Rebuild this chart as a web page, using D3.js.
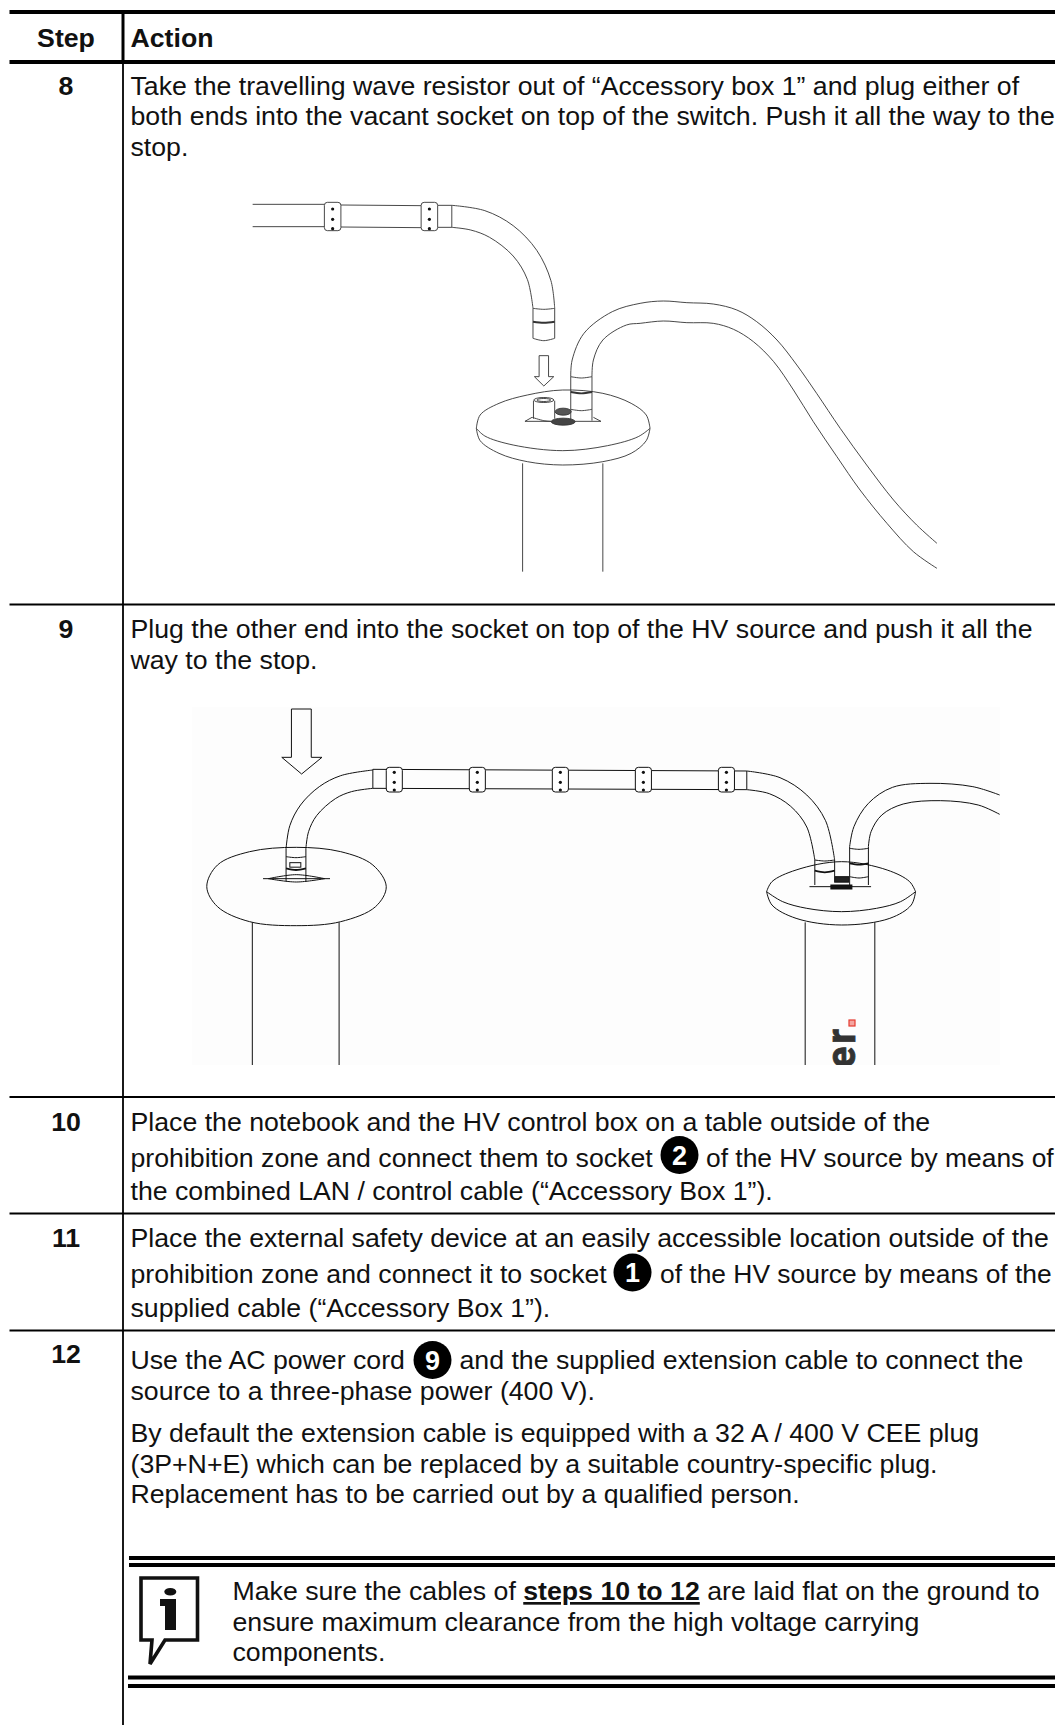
<!DOCTYPE html>
<html>
<head>
<meta charset="utf-8">
<script src="https://cdn.jsdelivr.net/npm/d3@7"></script>
<style>
html, body { margin: 0; padding: 0; background: #fff; overflow: hidden; }
text { font-family: "Liberation Sans", Arial, sans-serif; fill: #111; }
</style>
</head>
<body>
<div id="chart"></div>
<script>
// table content
var headerStep = "Step";
var headerAction = "Action";
var stepLabels = ["8", "9", "10", "11", "12"];
var row8Lines = ["Take the travelling wave resistor out of \u201CAccessory box 1\u201D and plug either of",
	"both ends into the vacant socket on top of the switch. Push it all the way to the",
	"stop."];
var row9Lines = ["Plug the other end into the socket on top of the HV source and push it all the",
	"way to the stop."];
var row10Lines = ["Place the notebook and the HV control box on a table outside of the",
	"prohibition zone and connect them to socket",
	"the combined LAN / control cable (\u201CAccessory Box 1\u201D)."];
var row10After = "of the HV source by means of";
var row11Lines = ["Place the external safety device at an easily accessible location outside of the",
	"prohibition zone and connect it to socket",
	"supplied cable (\u201CAccessory Box 1\u201D)."];
var row11After = "of the HV source by means of the";
var row12Lines = ["Use the AC power cord",
	"source to a three-phase power (400 V).",
	"By default the extension cable is equipped with a 32 A / 400 V CEE plug",
	"(3P+N+E) which can be replaced by a suitable country-specific plug.",
	"Replacement has to be carried out by a qualified person."];
var row12After = "and the supplied extension cable to connect the";
var noteBefore = "Make sure the cables of ";
var noteBold = "steps 10 to 12";
var noteAfter = " are laid flat on the ground to";
var noteLines = ["ensure maximum clearance from the high voltage carrying", "components."];
var badgeLabels = ["2", "1", "9"];

// drawing 1, traced in crop units
var d1CableTop = [[48,73],[200,73]];
var d1CableBottom = [[48,140],[200,140]];
var d1MidTop = [[235,75],[405,77]];
var d1MidBottom = [[235,141],[405,143]];
var d1StubTop = [[440,76],[470,76]];
var d1StubBottom = [[440,142],[470,142]];
var d1BendOuter = [[470,76],[540,92],[600,137],[650,211],[680,302],[688,385]];
var d1BendInner = [[470,142],[510,150],[550,172],[600,228],[630,298],[642,385]];
var d1Arrow = [[655,527],[675,527],[675,590],[686,590],[665,618],[645,590],[655,590],[655,527]];
var d1DomeTop = [[522,745],[530,705],[570,670],[630,645],[705,630],[790,640],[850,670],[882,705],[890,745]];
var d1Rim = [[522,745],[540,768],[600,795],[705,812],[800,797],[865,770],[890,745]];
var d1DomeBottom = [[522,745],[530,782],[570,820],[630,845],[705,855],[790,845],[850,820],[882,782],[890,745]];
var d1CableOuter = [[722,590],[725,540],[750,460],[810,395],[869,370],[918,363],[968,368],[1024,372],[1074,390],[1116,425],[1159,480],[1201,555],[1243,640],[1293,745],[1349,855],[1406,960],[1455,1035],[1498,1090]];
var d1CableInner = [[767,590],[770,540],[790,480],[840,435],[869,430],[918,423],[968,428],[1024,430],[1067,448],[1109,485],[1152,545],[1194,630],[1236,725],[1286,830],[1335,930],[1392,1030],[1448,1115],[1498,1165]];
var d1ClampX = [200, 405];
var d1ClampDots = [87, 118, 146];
var d1ColumnX = [620, 790];

// drawing 2, traced in crop units
var d2Arrow = [[208,57],[245,57],[245,202],[265,202],[227,252],[190,202],[208,202],[208,57]];
var d2LeftDome = [[50,590],[70,525],[130,485],[217,472],[300,485],[360,525],[385,590],[365,650],[300,695],[217,707],[130,695],[70,650]];
var d2LeftOuter = [[198,475],[205,407],[225,345],[260,290],[300,257],[360,240]];
var d2LeftInner = [[235,475],[240,425],[255,377],[290,326],[320,305],[360,295]];
var d2Top = [[360,238],[1058,243]];
var d2Bottom = [[360,295],[1058,299]];
var d2RightOuter = [[1058,243],[1120,263],[1170,315],[1205,392],[1222,510]];
var d2RightInner = [[1058,299],[1100,311],[1140,349],[1170,411],[1185,510]];
var d2SideOuter = [[1530,315],[1480,290],[1400,280],[1330,292],[1285,340],[1258,410],[1250,470]];
var d2SideInner = [[1530,373],[1490,345],[1420,332],[1350,342],[1310,375],[1290,425],[1285,470]];
var d2DomeTop = [[1095,605],[1105,575],[1150,540],[1235,515],[1320,540],[1362,575],[1373,605]];
var d2Rim = [[1095,605],[1125,635],[1170,655],[1235,665],[1300,655],[1345,635],[1373,605]];
var d2DomeBottom = [[1095,605],[1105,645],[1150,685],[1235,705],[1325,685],[1365,645],[1373,605]];
var d2ClampX = [385, 540, 695, 850, 1005];
var d2ClampDots = [247, 277, 300];
var d2ColumnX = [135, 297, 1167, 1297];

var pageWidth = 1055, pageHeight = 1725;
var textX = 130.5, stepX = 66;
var fontSize = 26.7;

var svg = d3.select("#chart").append("svg")
	.attr("width", pageWidth)
	.attr("height", pageHeight);

// rules of the table
var rules = [
	{ x1: 9.5, x2: pageWidth, y: 12, w: 4 },
	{ x1: 9.5, x2: pageWidth, y: 62, w: 4 },
	{ x1: 9.5, x2: pageWidth, y: 604.5, w: 2.2 },
	{ x1: 9.5, x2: pageWidth, y: 1097, w: 2.2 },
	{ x1: 9.5, x2: pageWidth, y: 1213.5, w: 2.2 },
	{ x1: 9.5, x2: pageWidth, y: 1330.5, w: 2.2 },
	{ x1: 129, x2: pageWidth, y: 1558, w: 4 },
	{ x1: 129, x2: pageWidth, y: 1565, w: 4 },
	{ x1: 128, x2: pageWidth, y: 1677.5, w: 4 },
	{ x1: 128, x2: pageWidth, y: 1686, w: 4 }
];

svg.append("g").selectAll("line")
	.data(rules)
	.enter().append("line")
	.attr("x1", function(d) { return d.x1; })
	.attr("x2", function(d) { return d.x2; })
	.attr("y1", function(d) { return d.y; })
	.attr("y2", function(d) { return d.y; })
	.attr("stroke", "#000")
	.attr("stroke-width", function(d) { return d.w; });

svg.append("line").attr("x1", 123).attr("x2", 123).attr("y1", 12).attr("y2", 62)
	.attr("stroke", "#000").attr("stroke-width", 3);
svg.append("line").attr("x1", 123).attr("x2", 123).attr("y1", 62).attr("y2", pageHeight)
	.attr("stroke", "#000").attr("stroke-width", 1.8);

function addLines(lines, x, baselines) {
	svg.append("g").selectAll("text")
		.data(lines)
		.enter().append("text")
		.attr("x", x)
		.attr("y", function(d, i) { return baselines[i]; })
		.attr("font-size", fontSize)
		.text(function(d) { return d; });
}

// header and step numbers
svg.append("text").attr("x", stepX).attr("y", 47).attr("text-anchor", "middle")
	.attr("font-size", fontSize).attr("font-weight", "bold").text(headerStep);
svg.append("text").attr("x", textX).attr("y", 47)
	.attr("font-size", fontSize).attr("font-weight", "bold").text(headerAction);

var stepBaselines = [95, 638, 1131, 1247, 1363];
svg.append("g").selectAll("text")
	.data(stepLabels)
	.enter().append("text")
	.attr("x", stepX)
	.attr("y", function(d, i) { return stepBaselines[i]; })
	.attr("text-anchor", "middle")
	.attr("font-size", fontSize)
	.attr("font-weight", "bold")
	.text(function(d) { return d; });

addLines(row8Lines, textX, [95, 125, 156]);
addLines(row9Lines, textX, [638, 669]);
addLines(row10Lines, textX, [1131, 1167, 1200]);
addLines(row11Lines, textX, [1247, 1283, 1317]);
addLines(row12Lines, textX, [1369, 1400, 1442, 1473, 1503]);

// text that carries on behind a numbered badge
var afterBadge = [
	{ t: row10After, x: 706, y: 1167, s: 26.4 },
	{ t: row11After, x: 660, y: 1283, s: 26.4 },
	{ t: row12After, x: 459.5, y: 1369, s: fontSize }
];
svg.append("g").selectAll("text")
	.data(afterBadge)
	.enter().append("text")
	.attr("x", function(d) { return d.x; })
	.attr("y", function(d) { return d.y; })
	.attr("font-size", function(d) { return d.s; })
	.text(function(d) { return d.t; });

var badgeX = [679.5, 632.5, 432.5], badgeY = [1155, 1272.5, 1360];
var badges = svg.append("g").selectAll("g")
	.data(badgeLabels)
	.enter().append("g")
	.attr("transform", function(d, i) { return "translate(" + badgeX[i] + "," + badgeY[i] + ")"; });
badges.append("circle").attr("r", 19).attr("fill", "#000");
badges.append("text")
	.attr("y", 9.5)
	.attr("text-anchor", "middle")
	.attr("font-size", 27)
	.attr("font-weight", "bold")
	.style("fill", "#fff")
	.text(function(d) { return d; });

// note under step 12
var note = svg.append("text").attr("x", 232.5).attr("y", 1600).attr("font-size", fontSize);
note.append("tspan").style("white-space", "pre").text(noteBefore);
note.append("tspan").attr("font-weight", "bold").style("text-decoration", "underline").text(noteBold);
note.append("tspan").style("white-space", "pre").text(noteAfter);
addLines(noteLines, 232.5, [1630.5, 1661]);

// info icon
svg.append("path")
	.attr("d", "M141,1578H197.5V1640H165L150,1664L152,1640H141Z")
	.attr("fill", "#fff").attr("stroke", "#111").attr("stroke-width", 3.6);
svg.append("ellipse").attr("cx", 170.3).attr("cy", 1591.7).attr("rx", 6).attr("ry", 3.8).attr("fill", "#111");
svg.append("path")
	.attr("d", "M160,1599H176V1630H165V1606H160Z")
	.attr("fill", "#111");

// line art helpers
function artLayer(cropW, cropH, left, top, width, height, stroke, strokeW) {
	var x = d3.scaleLinear().domain([0, cropW]).range([left, left + width]);
	var y = d3.scaleLinear().domain([0, cropH]).range([top, top + height]);
	var g = svg.append("g").attr("fill", "none").attr("stroke", stroke).attr("stroke-width", strokeW);
	var curved = d3.line().x(function(d) { return x(d[0]); }).y(function(d) { return y(d[1]); }).curve(d3.curveCatmullRom.alpha(0.5));
	var closed = d3.line().x(function(d) { return x(d[0]); }).y(function(d) { return y(d[1]); }).curve(d3.curveCatmullRomClosed.alpha(0.5));
	var straight = d3.line().x(function(d) { return x(d[0]); }).y(function(d) { return y(d[1]); });
	return {
		x: x, y: y, g: g,
		curve: function(pts) { return g.append("path").attr("d", curved(pts)); },
		loop: function(pts) { return g.append("path").attr("d", closed(pts)); },
		poly: function(pts) { return g.append("path").attr("d", straight(pts)); }
	};
}

function clamp(a, cx, top, bottom, w, dots) {
	a.g.append("rect")
		.attr("x", a.x(cx)).attr("y", a.y(top))
		.attr("width", a.x(cx + w) - a.x(cx)).attr("height", a.y(bottom) - a.y(top))
		.attr("rx", 3).attr("fill", "#fff");
	a.g.selectAll(null)
		.data(dots)
		.enter().append("circle")
		.attr("cx", a.x(cx + w / 2))
		.attr("cy", function(d) { return a.y(d); })
		.attr("r", 1.6)
		.attr("fill", "#111")
		.attr("stroke", "none");
}

// sleeve band, a shallow arc across the cable
function band(a, xl, xr, y, sag, thick) {
	var p = a.curve([[xl, y], [(xl + xr) / 2, y + sag], [xr, y]]);
	if (thick) p.attr("stroke-width", thick);
}

// drawing 1
var a1 = artLayer(1568, 1260, 230, 180, 740, 420, "#333", 0.9);
[d1CableTop, d1CableBottom, d1MidTop, d1MidBottom, d1StubTop, d1StubBottom, d1Arrow].forEach(a1.poly);
[d1BendOuter, d1BendInner, d1DomeTop, d1Rim, d1DomeBottom, d1CableOuter, d1CableInner].forEach(a1.curve);
d1ClampX.forEach(function(cx) { clamp(a1, cx, 67, 152, 35, d1ClampDots); });
a1.poly([[470, 76], [470, 142]]);
// falling plug
a1.poly([[642, 385], [642, 475]]);
a1.poly([[688, 385], [688, 475]]);
band(a1, 642, 688, 385, 3);
band(a1, 642, 688, 425, 3, 2);
band(a1, 642, 688, 475, 7);
// plugged sleeve
a1.poly([[722, 590], [722, 722]]);
a1.poly([[767, 590], [767, 722]]);
band(a1, 722, 767, 590, 4);
band(a1, 722, 767, 636, 4, 1.8);
band(a1, 722, 767, 688, 4);
// vacant socket
a1.g.append("ellipse").attr("cx", a1.x(665)).attr("cy", a1.y(660)).attr("rx", 10).attr("ry", 2.5);
a1.g.append("ellipse").attr("cx", a1.x(665)).attr("cy", a1.y(660)).attr("rx", 7).attr("ry", 1.5);
a1.poly([[643, 662], [643, 716]]);
a1.poly([[688, 662], [688, 716]]);
a1.poly([[625, 724], [640, 712]]);
a1.poly([[625, 724], [786, 724]]);
a1.poly([[786, 724], [770, 712]]);
a1.curve([[640, 712], [665, 722], [680, 724]]);
// nuts
a1.g.append("ellipse").attr("cx", a1.x(706)).attr("cy", a1.y(695)).attr("rx", 8).attr("ry", 3.5).attr("fill", "#555");
a1.g.append("ellipse").attr("cx", a1.x(706)).attr("cy", a1.y(725)).attr("rx", 12).attr("ry", 3.5).attr("fill", "#444");
d1ColumnX.forEach(function(cx) { a1.poly([[cx, 850], [cx, 1175]]); });

// drawing 2 backdrop, then lines
var a2 = artLayer(1568, 1200, 180, 690, 840, 400, "#111", 1);
a2.g.append("rect").attr("x", 192).attr("y", 707).attr("width", 808).attr("height", 358)
	.attr("fill", "#fdfdfd").attr("stroke", "none");
[d2Arrow, d2Top, d2Bottom].forEach(a2.poly);
a2.loop(d2LeftDome);
[d2DomeTop, d2Rim, d2DomeBottom, d2LeftOuter, d2LeftInner, d2RightOuter, d2RightInner, d2SideOuter, d2SideInner].forEach(a2.curve);
d2ClampX.forEach(function(cx) { clamp(a2, cx, 232, 306, 30, d2ClampDots); });
a2.poly([[360, 238], [360, 295]]);
a2.poly([[1058, 243], [1058, 299]]);
// left sleeve
a2.poly([[198, 475], [198, 575]]);
a2.poly([[235, 475], [235, 575]]);
band(a2, 198, 235, 500, 3);
band(a2, 198, 235, 535, 5, 1.8);
a2.g.append("rect").attr("x", a2.x(205)).attr("y", a2.y(518)).attr("width", 11).attr("height", 4.5);
a2.curve([[165, 566], [217, 554], [270, 566]]);
a2.curve([[165, 566], [217, 576], [270, 566]]);
a2.poly([[155, 566], [280, 566]]);
// right sleeves
a2.poly([[1185, 510], [1185, 585]]);
a2.poly([[1222, 510], [1222, 560]]);
a2.poly([[1250, 470], [1250, 585]]);
a2.poly([[1285, 470], [1285, 585]]);
band(a2, 1185, 1222, 510, 3);
band(a2, 1185, 1222, 542, 5, 1.8);
band(a2, 1250, 1285, 475, 3);
band(a2, 1250, 1285, 520, 4, 1.8);
band(a2, 1250, 1285, 560, 4);
a2.poly([[1175, 590], [1290, 590]]);
a2.g.append("rect").attr("x", a2.x(1222)).attr("y", a2.y(560)).attr("width", 14).attr("height", 5.5).attr("fill", "#222");
a2.g.append("rect").attr("x", a2.x(1215)).attr("y", a2.y(585)).attr("width", 21).attr("height", 4).attr("fill", "#111");
d2ColumnX.forEach(function(cx) { a2.poly([[cx, 697], [cx, 1125]]); });

// logo fragment on the column
svg.append("clipPath").attr("id", "logoClip").append("rect")
	.attr("x", 820).attr("y", 1010).attr("width", 60).attr("height", 55);
svg.append("g").attr("clip-path", "url(#logoClip)")
	.append("text")
	.attr("transform", "translate(855,1026) rotate(-90)")
	.attr("text-anchor", "end")
	.attr("font-size", 40)
	.attr("font-weight", "bold")
	.attr("letter-spacing", 3)
	.style("font-family", "Roboto, sans-serif")
	.style("fill", "#333")
	.style("stroke", "#333")
	.style("stroke-width", 0.8)
	.text("er");
svg.append("rect").attr("x", 849).attr("y", 1020).attr("width", 6).attr("height", 6)
	.attr("fill", "#f4a5a0").attr("stroke", "#e53b30").attr("stroke-width", 1.2);
</script>
</body>
</html>
